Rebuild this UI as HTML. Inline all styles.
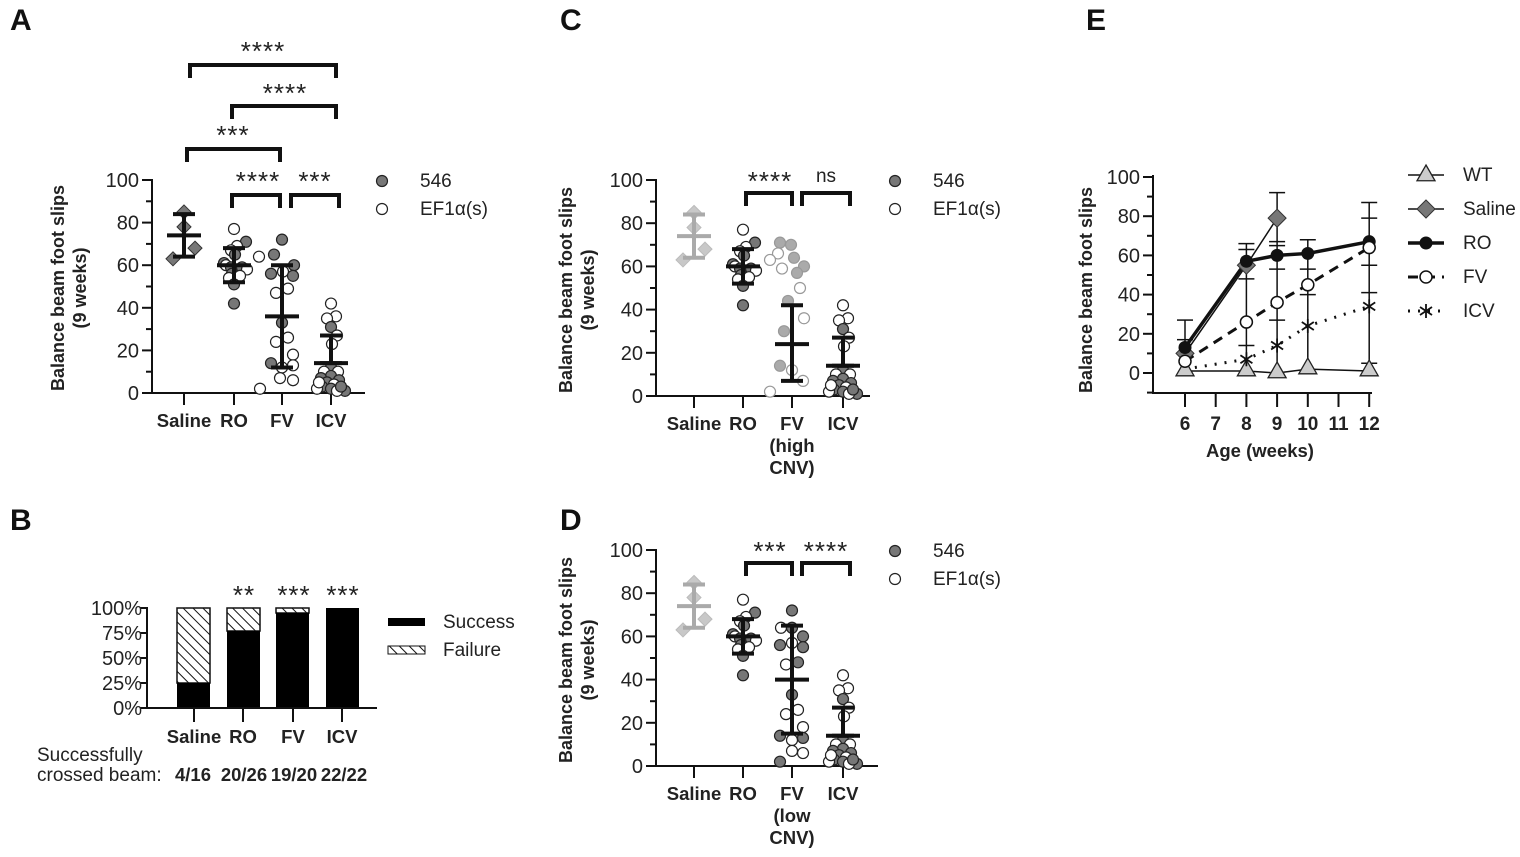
<!DOCTYPE html>
<html><head><meta charset="utf-8"><style>
html,body{margin:0;padding:0;background:#fff}
svg{display:block;font-family:"Liberation Sans",sans-serif}
</style></head><body>
<svg id="s" width="1520" height="857" viewBox="0 0 1520 857" xmlns="http://www.w3.org/2000/svg">
<defs>
<pattern id="hatch" patternUnits="userSpaceOnUse" width="7" height="7" patternTransform="rotate(-45)">
<rect width="7" height="7" fill="#fff"/><line x1="0" y1="0" x2="0" y2="7" stroke="#111" stroke-width="2"/>
</pattern>
</defs>
<rect width="1520" height="857" fill="#fff"/>
<g font-weight="bold" font-size="30" fill="#111">
<text x="10" y="30">A</text><text x="10" y="530">B</text>
<text x="560" y="30">C</text><text x="560" y="530">D</text><text x="1086" y="30">E</text>
</g>
<g id="g"></g>
<g fill="#222" font-size="19">
<g font-weight="bold" text-anchor="middle" font-size="18.5">
<text x="184" y="427">Saline</text><text x="234" y="427">RO</text><text x="282" y="427">FV</text><text x="331" y="427">ICV</text>
<text x="694" y="430">Saline</text><text x="743" y="430">RO</text><text x="792" y="430">FV</text><text x="792" y="452">(high</text><text x="792" y="474">CNV)</text><text x="843" y="430">ICV</text>
<text x="694" y="800">Saline</text><text x="743" y="800">RO</text><text x="792" y="800">FV</text><text x="792" y="822">(low</text><text x="792" y="844">CNV)</text><text x="843" y="800">ICV</text>
<text x="194" y="743">Saline</text><text x="243" y="743">RO</text><text x="293" y="743">FV</text><text x="342" y="743">ICV</text>
<text x="193" y="781">4/16</text><text x="244" y="781">20/26</text><text x="294" y="781">19/20</text><text x="344" y="781">22/22</text>
<text x="1260" y="457">Age (weeks)</text>
</g>
<text x="37" y="761">Successfully</text><text x="37" y="781">crossed beam:</text>
<text x="420" y="187">546</text><text x="420" y="215">EF1α(s)</text>
<text x="933" y="187">546</text><text x="933" y="215">EF1α(s)</text>
<text x="933" y="557">546</text><text x="933" y="585">EF1α(s)</text>
<text x="443" y="628">Success</text><text x="443" y="656">Failure</text>
<text x="1463" y="181">WT</text><text x="1463" y="215">Saline</text><text x="1463" y="249">RO</text><text x="1463" y="283">FV</text><text x="1463" y="317">ICV</text>
<g font-weight="bold" font-size="18" text-anchor="middle">
<text transform="translate(64,288) rotate(-90)">Balance beam foot slips</text>
<text transform="translate(86,288) rotate(-90)">(9 weeks)</text>
<text transform="translate(572,290) rotate(-90)">Balance beam foot slips</text>
<text transform="translate(594,290) rotate(-90)">(9 weeks)</text>
<text transform="translate(572,660) rotate(-90)">Balance beam foot slips</text>
<text transform="translate(594,660) rotate(-90)">(9 weeks)</text>
<text transform="translate(1092,290) rotate(-90)">Balance beam foot slips</text>
</g>
<g font-size="26" text-anchor="middle" letter-spacing="1">
<text x="263" y="60">****</text><text x="285" y="102">****</text><text x="233" y="144">***</text>
<text x="258" y="190">****</text><text x="315" y="190">***</text>
<text x="770" y="190">****</text>
<text x="770" y="560">***</text><text x="826" y="560">****</text>
<text x="244" y="604">**</text><text x="294" y="604">***</text><text x="343" y="604">***</text>
</g>
<text x="826" y="182" text-anchor="middle">ns</text>
</g>
</svg>
<script>
var NS="http://www.w3.org/2000/svg",G=document.getElementById("g");
function el(t,a){var e=document.createElementNS(NS,t);for(var k in a)e.setAttribute(k,a[k]);G.appendChild(e);return e}
function ln(x1,y1,x2,y2,w,c,d){var a={x1:x1,y1:y1,x2:x2,y2:y2,stroke:c||"#111","stroke-width":w||2};if(d)a["stroke-dasharray"]=d;return el("line",a)}
function tx(x,y,s,anc,sz){var t=el("text",{x:x,y:y,"font-size":sz||20,fill:"#222","text-anchor":anc||"end"});t.textContent=s}
function dot(x,y,f,c){el("circle",{cx:x,cy:y,r:5.5,fill:f?(c||"#777"):"#fff",stroke:c?"#999":"#222","stroke-width":1.2})}
function dia(x,y,c,s){s=s||7;el("polygon",{points:(x)+","+(y-s)+" "+(x+s)+","+y+" "+x+","+(y+s)+" "+(x-s)+","+y,fill:c,stroke:c=="#777"?"#333":"#bbb","stroke-width":1})}
function bracket(x1,x2,y){el("polyline",{points:x1+","+(y+13)+" "+x1+","+y+" "+x2+","+y+" "+x2+","+(y+13),fill:"none",stroke:"#111","stroke-width":4})}
function scatter(P){
 var ax=P.ax,y0=P.y0,k=(P.y0-P.y100)/100,Y=function(v){return y0-v*k};
 ln(ax,P.y100-1,ax,y0+1,2);ln(ax-1,y0,P.xe,y0,2);
 for(var v=0;v<=100;v+=10){ln(ax-(v%20?6:10),Y(v),ax,Y(v),2);if(v%20==0)tx(ax-13,Y(v)+7,v)}
 P.cats.forEach(function(c){ln(c,y0,c,y0+12,2)});
 P.groups.forEach(function(g){var x=g.x;
  g.pts.forEach(function(p){ if(g.dia) dia(x+p[1],Y(p[0]),g.col); else dot(x+p[1],Y(p[0]),p[2],g.light?"#aaa":null); });
  var c=g.ecol||"#111";ln(x,Y(g.hi),x,Y(g.lo),4,c);ln(x-11,Y(g.hi),x+11,Y(g.hi),4,c);ln(x-11,Y(g.lo),x+11,Y(g.lo),4,c);ln(x-17,Y(g.m),x+17,Y(g.m),4,c);
 });
}
var sal=[[85,0],[78,0],[68,11],[63,-11]];
var ro=[[77,0,0],[71,12,1],[69,3,0],[67,-3,0],[65,1,1],[61,-10,1],[60,-8,0],[59,-3,1],[59,8,1],[58,13,0],[56,-2,1],[55,6,0],[54,-5,0],[51,0,1],[42,0,1]];
var icv=[[42,0,0],[36,5,0],[35,-4,0],[31,0,1],[27,6,0],[23,1,0],[12,0,1],[10,-7,0],[10,7,0],[8,0,1],[7,-10,1],[6,8,1],[5,-4,1],[4,3,0],[3,-9,1],[2,0,1],[2,-14,0],[1,14,1],[1,6,0],[3,10,1],[5,-12,0]];
var fv=[[72,0,1],[65,-8,1],[64,-23,0],[60,12,1],[56,-11,1],[57,1,0],[55,11,1],[49,6,0],[47,-6,0],[33,0,1],[26,6,0],[24,-6,0],[18,11,0],[14,-11,1],[12,0,0],[13,11,0],[7,-2,0],[6,11,0],[2,-22,0]];
scatter({ax:152,y0:393,y100:180,xe:365,cats:[184,234,282,331],groups:[
 {x:184,dia:1,col:"#777",pts:sal,m:74,hi:84,lo:64},
 {x:234,pts:ro,m:60,hi:68,lo:52},{x:282,pts:fv,m:36,hi:60,lo:12},{x:331,pts:icv,m:14,hi:27,lo:14}]});
bracket(190,336,65);bracket(232,336,106);bracket(187,280,149);bracket(232,280,195);bracket(291,339,195);
dot(382,181,1);dot(382,209,0);
var fvh=[[71,-12,1],[70,-1,1],[66,-14,0],[64,2,1],[63,-22,0],[60,12,1],[59,-10,0],[57,5,1],[50,8,0],[44,-4,1],[36,12,0],[30,-8,1],[14,-12,1],[12,0,0],[7,11,0],[2,-22,0]];
scatter({ax:656,y0:396,y100:180,xe:870,cats:[694,743,792,843],groups:[
 {x:694,dia:1,col:"#c8c8c8",pts:sal,m:74,hi:84,lo:64,ecol:"#aaa"},
 {x:743,pts:ro,m:60,hi:68,lo:52},{x:792,light:1,pts:fvh,m:24,hi:42,lo:7},{x:843,pts:icv,m:14,hi:27,lo:14}]});
bracket(746,792,193);bracket(802,850,193);
dot(895,181,1);dot(895,209,0);
var fvl=[[72,0,1],[64,-11,0],[64,0,1],[60,11,1],[56,-12,1],[57,0,0],[55,11,1],[48,6,1],[47,-6,0],[33,0,1],[26,6,0],[24,-6,0],[18,11,0],[14,-12,1],[12,0,0],[13,11,1],[7,0,0],[6,11,0],[2,-12,1]];
scatter({ax:656,y0:766,y100:550,xe:878,cats:[694,743,792,843],groups:[
 {x:694,dia:1,col:"#c8c8c8",pts:sal,m:74,hi:84,lo:64,ecol:"#aaa"},
 {x:743,pts:ro,m:60,hi:68,lo:52},{x:792,pts:fvl,m:40,hi:65,lo:15},{x:843,pts:icv,m:14,hi:27,lo:14}]});
bracket(746,792,563);bracket(802,850,563);
dot(895,551,1);dot(895,579,0);
(function(){var ax=147,y0=708,yt=608,k=(y0-yt)/100;
 [[177,25],[227,77],[276,95],[326,100]].forEach(function(b){
  if(b[1]<100)el("rect",{x:b[0],y:yt,width:33,height:(100-b[1])*k,fill:"url(#hatch)",stroke:"#111","stroke-width":1.5});
  el("rect",{x:b[0],y:y0-b[1]*k,width:33,height:b[1]*k,fill:"#000"});
 });
 ln(ax,yt-1,ax,y0+1,2);ln(ax-1,y0,377,y0,2);
 [0,25,50,75,100].forEach(function(v){ln(ax-7,y0-v*k,ax,y0-v*k,2);tx(ax-5,y0-v*k+7,v+"%")});
 [194,243,293,342].forEach(function(c){ln(c,y0,c,y0+14,2)});
 el("rect",{x:388,y:618,width:37,height:8,fill:"#000"});
 el("rect",{x:388,y:646,width:37,height:8,fill:"url(#hatch)",stroke:"#111","stroke-width":1});
})();
(function(){var ax=1153,y0=373,k=1.96,Y=function(v){return y0-v*k},X=function(w){return 1185+(w-6)*30.7};
 ln(ax,175,ax,394,2);ln(ax-1,393,1372,393,2);
 for(var v=-10;v<=100;v+=10){ln(ax-(v%20?6:10),Y(v),ax,Y(v),2);if(v>=0&&v%20==0)tx(ax-13,Y(v)+7,v)}
 for(var w=6;w<=12;w++){ln(X(w),393,X(w),407,2);var t=el("text",{x:X(w),y:430,"font-size":19,"font-weight":"bold",fill:"#222","text-anchor":"middle"});t.textContent=w}
 function eb(w,lo,hi,caps){ln(X(w),Y(hi),X(w),Y(lo),1.5);caps.forEach(function(c){ln(X(w)-8,Y(c),X(w)+8,Y(c),1.5)})}
 eb(6,0,27,[27,17]);eb(8,0,66,[66,63,48,14]);eb(9,0,92,[92,67,65,53,27]);eb(10,0,68,[68,53,40]);eb(12,0,87,[87,79,55,41,5]);
 function series(ws,vs,w,d){var p=ws.map(function(x,i){return X(x)+","+Y(vs[i])}).join(" ");var a={points:p,fill:"none",stroke:"#111","stroke-width":w};if(d)a["stroke-dasharray"]=d;el("polyline",a)}
 series([6,8,9,10,12],[1,1,0,2,1],1.5);
 series([6,8,9],[10,55,79],1.5);
 series([6,8,9,10,12],[13,57,60,61,67],3.5);
 series([6,8,9,10,12],[6,26,36,45,64],3,"10,7");
 series([6,8,9,10,12],[2,7,14,24,34],3,"2,8");
 function tri(x,y,s){el("polygon",{points:x+","+(y-s)+" "+(x+s)+","+(y+s*0.75)+" "+(x-s)+","+(y+s*0.75),fill:"#ccc",stroke:"#222","stroke-width":1.3})}
 function star(x,y){[[0,-7,0,7],[-6,-4,6,4],[-6,4,6,-4]].forEach(function(l){ln(x+l[0],y+l[1],x+l[2],y+l[3],1.8)})}
 [[6,1],[8,1],[9,0],[10,2],[12,1]].forEach(function(p){tri(X(p[0]),Y(p[1])-2,9)});
 [[6,10],[8,55],[9,79]].forEach(function(p){dia(X(p[0]),Y(p[1]),"#777",9)});
 [[6,13],[8,57],[9,60],[10,61],[12,67]].forEach(function(p){el("circle",{cx:X(p[0]),cy:Y(p[1]),r:6.5,fill:"#111"})});
 [[6,6],[8,26],[9,36],[10,45],[12,64]].forEach(function(p){el("circle",{cx:X(p[0]),cy:Y(p[1]),r:6,fill:"#fff",stroke:"#111","stroke-width":1.5})});
 [[8,7],[9,14],[10,24],[12,34]].forEach(function(p){star(X(p[0]),Y(p[1]))});
 var lx1=1408,lx2=1444,cx=1426;
 ln(lx1,175,lx2,175,1.5);tri(cx,174,9);
 ln(lx1,209,lx2,209,1.5);dia(cx,209,"#777",9);
 ln(lx1,243,lx2,243,3.5);el("circle",{cx:cx,cy:243,r:6.5,fill:"#111"});
 ln(lx1,277,lx2,277,3,null,"10,7");el("circle",{cx:cx,cy:277,r:6,fill:"#fff",stroke:"#111","stroke-width":1.5});
 ln(lx1,311,lx2,311,3,null,"2,8");star(cx,311);
})();
</script>
</body></html>
